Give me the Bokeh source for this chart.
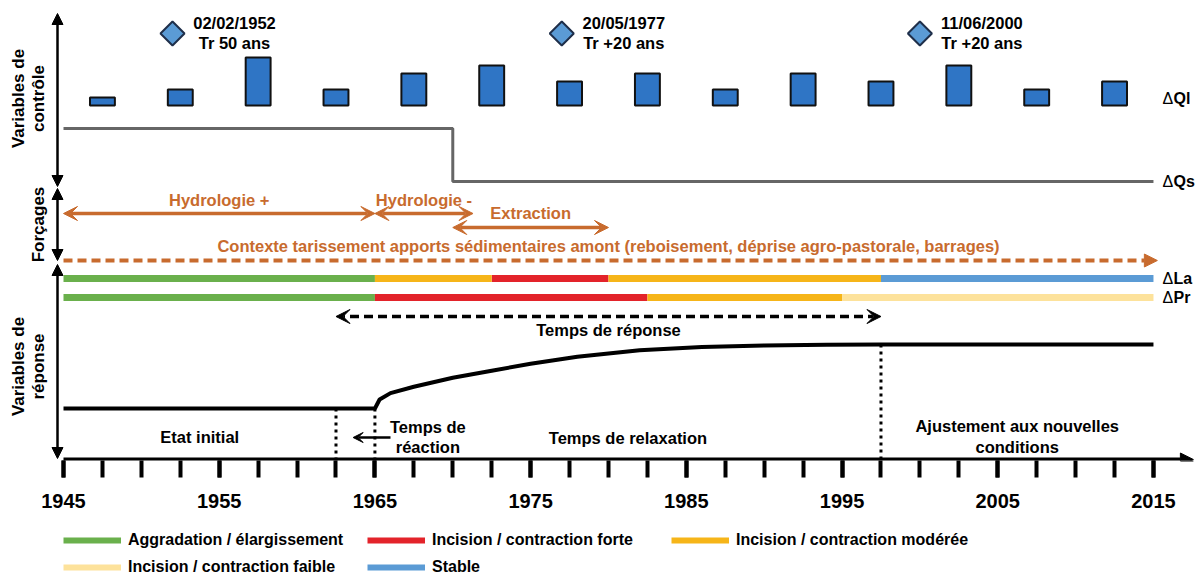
import numpy as np
from bokeh.plotting import figure
from bokeh.layouts import column
from bokeh.models import (Range1d, Arrow, VeeHead, NormalHead, FixedTicker,
                          Legend, LegendItem, ColumnDataSource)
from bokeh.core.properties import value
from bokeh.embed import file_html
from bokeh.resources import INLINE

# ---------------------------------------------------------------- data
tick_years = [1945, 1955, 1965, 1975, 1985, 1995, 2005, 2015]
minor_years = [1945 + 2.5 * i for i in range(29)]

peak_years = [1947.5, 1952.5, 1957.5, 1962.5, 1967.5, 1972.5, 1977.5,
              1982.5, 1987.5, 1992.5, 1997.5, 2002.5, 2007.5, 2012.5]
peak_ql = [1, 2, 6, 2, 4, 5, 3, 4, 2, 4, 3, 5, 2, 3]

flood_years = [1952, 1977, 2000]
flood_dates = ["02/02/1952", "20/05/1977", "11/06/2000"]
flood_return = ["Tr 50 ans", "Tr +20 ans", "Tr +20 ans"]

qs_years = [1945, 1970, 1970, 2015]
qs_level = [1, 1, 0, 0]

forcing_names = ["Hydrologie +", "Hydrologie -", "Extraction"]
forcing_start = [1945, 1965, 1970]
forcing_end = [1965, 1971.3, 1980]
context_start, context_end = 1945, 2015
context_text = ("Contexte tarissement apports sédimentaires amont "
                "(reboisement, déprise agro-pastorale, barrages)")

la_start = [1945, 1965, 1972.5, 1980, 1997.5]
la_end = [1965, 1972.5, 1980, 1997.5, 2015]
la_class = ["agg", "mod", "forte", "mod", "stable"]
pr_start = [1945, 1965, 1982.5, 1995]
pr_end = [1965, 1982.5, 1995, 2015]
pr_class = ["agg", "forte", "mod", "faible"]

class_keys = ["agg", "forte", "mod", "faible", "stable"]
class_labels = ["Aggradation / élargissement", "Incision / contraction forte",
                "Incision / contraction modérée", "Incision / contraction faible",
                "Stable"]
class_colors = ["#6ab04c", "#e3232a", "#f6b519", "#fde29b", "#5b9bd5"]

resp_years = [1945, 1965, 1965.3, 1966, 1967.5, 1970, 1972.5, 1975, 1978,
              1982, 1986, 1990, 1994, 1997.5, 2015]
resp_level = [0, 0, 0.14, 0.24, 0.34, 0.48, 0.59, 0.70, 0.81,
              0.91, 0.96, 0.985, 0.997, 1.0, 1.0]

marker_years = [1962.5, 1965, 1997.5]   # reaction start, disturbance, end of relaxation
marker_levels = [0, 0, 1]
response_window = (1962.5, 1997.5)
reaction_arrow = (1966, 1963.6)

right_labels = ["Ql", "Qs", "La", "Pr"]

# ---------------------------------------------------------------- layout (page-pixel rows)
FONT = "Liberation Sans"
ORANGE = "#c86b2e"
Y_TOP, Y_AXIS = 0, 460
X0_PX, PX_PER_YEAR = 63, 15.571          # 1945 sits 63 px right of the frame's left edge
FRAME_W = 1196
TOTAL_H = 577
MAIN_H = 520
x_start = 1945 - X0_PX / PX_PER_YEAR
x_end = x_start + FRAME_W / PX_PER_YEAR


def band(zero_px, one_px):
    k = one_px - zero_px
    return Range1d(start=(Y_AXIS - zero_px) / k, end=(Y_TOP - zero_px) / k)


p = figure(width=FRAME_W, height=MAIN_H, x_range=Range1d(x_start, x_end),
           y_range=Range1d(Y_AXIS, Y_TOP), output_backend="svg",
           toolbar_location=None, y_axis_location=None, x_axis_location="below",
           min_border_left=0, min_border_right=0, min_border_top=0,
           min_border_bottom=MAIN_H - (Y_AXIS - Y_TOP), outline_line_color=None,
           background_fill_color="white", border_fill_color="white")
p.grid.visible = False
p.extra_y_ranges = {"ql": band(105, 97), "qs": band(181, 128), "resp": band(408, 344)}

# x axis
ax = p.xaxis[0]
ax.ticker = FixedTicker(ticks=tick_years, minor_ticks=minor_years)
ax.bounds = (1945, 2015)
ax.axis_line_color = None
ax.major_tick_out = 17
ax.major_tick_in = 0
ax.minor_tick_out = 17
ax.minor_tick_in = 0
ax.major_tick_line_width = 4
ax.minor_tick_line_width = 4
ax.major_tick_line_color = "black"
ax.minor_tick_line_color = "black"
ax.major_label_standoff = 16
ax.major_label_text_font = FONT
ax.major_label_text_font_style = "bold"
ax.major_label_text_font_size = "20px"
ax.major_label_text_color = "black"
p.add_layout(Arrow(x_start=1945, y_start=Y_AXIS - 1, x_end=x_end - 0.2, y_end=Y_AXIS - 1,
                   line_width=4, line_color="black",
                   end=NormalHead(size=13, fill_color="black", line_color="black")))

# left vertical axis (three double arrows)
XV = 1945 - 6 / PX_PER_YEAR
for a, b in [(186, 13), (188, 260), (264, 458)]:
    p.add_layout(Arrow(x_start=XV, y_start=a, x_end=XV, y_end=b, line_width=2.5,
                       start=NormalHead(size=11, fill_color="black", line_color="black"),
                       end=NormalHead(size=11, fill_color="black", line_color="black")))

XL1 = 1945 - 45 / PX_PER_YEAR
XL2 = 1945 - 25 / PX_PER_YEAR
p.text(x=[XL1, XL2, XL2, XL1, XL2], y=[98, 98, 224, 366, 366],
       text=["Variables de", "contrôle", "Forçages", "Variables de", "réponse"],
       angle=np.pi / 2, text_align="center", text_baseline="middle",
       text_font=value(FONT), text_font_style="bold", text_font_size="17px",
       text_color="black")

# control variables: peak discharges
p.vbar(x=peak_years, top=peak_ql, bottom=0, width=1.6, y_range_name="ql",
       fill_color="#2f75c5", line_color="#111111", line_width=2)
p.scatter(x=flood_years, y=[33] * 3, marker="square", angle=np.pi / 4, size=17,
          fill_color="#5b9bd5", line_color="#1f2f4a", line_width=2)
p.text(x=flood_years, y=[22] * 3, text=flood_dates, x_offset=62,
       text_align="center", text_baseline="middle", text_font=value(FONT),
       text_font_style="bold", text_font_size="16.5px", text_color="black")
p.text(x=flood_years, y=[42] * 3, text=flood_return, x_offset=62,
       text_align="center", text_baseline="middle", text_font=value(FONT),
       text_font_style="bold", text_font_size="16.5px", text_color="black")

# sediment supply step
p.line(qs_years, qs_level, y_range_name="qs", line_color="#666666", line_width=3)

# right-hand labels
XR = 2015 + 9 / PX_PER_YEAR
ry = [98, 181, 278, 297]
p.text(x=[XR] * 4, y=ry, text=["Δ"] * 4,
       text_align="left", text_baseline="middle", text_font=value(FONT),
       text_font_size="16px", text_color="black")
p.text(x=[XR] * 4, y=ry, text=right_labels,
       x_offset=11, text_align="left", text_baseline="middle", text_font=value(FONT),
       text_font_style="bold", text_font_size="16px", text_color="black")

# forcings
for s, e, yy in zip(forcing_start, forcing_end, [213, 213, 227]):
    p.add_layout(Arrow(x_start=s, y_start=yy, x_end=e, y_end=yy, line_width=3.5,
                       line_color=ORANGE,
                       start=VeeHead(size=14, fill_color=ORANGE, line_color=ORANGE),
                       end=VeeHead(size=14, fill_color=ORANGE, line_color=ORANGE)))
p.text(x=[(s + e) / 2 for s, e in zip(forcing_start, forcing_end)], y=[199, 199, 212],
       text=forcing_names, text_align="center", text_baseline="middle",
       text_font=value(FONT), text_font_style="bold", text_font_size="16.5px",
       text_color=ORANGE)
p.text(x=[(context_start + context_end) / 2], y=[245], text=[context_text],
       text_align="center", text_baseline="middle", text_font=value(FONT),
       text_font_style="bold", text_font_size="16.5px", text_color=ORANGE)
p.add_layout(Arrow(x_start=context_start, y_start=260, x_end=context_end + 0.25, y_end=260,
                   line_width=4, line_color=ORANGE, line_dash="9 5",
                   end=NormalHead(size=13, fill_color=ORANGE, line_color=ORANGE)))

# response classes (ΔLa, ΔPr bars)
seg = {"x0": la_start + pr_start, "x1": la_end + pr_end,
       "y": [278] * len(la_start) + [297] * len(pr_start),
       "cls": la_class + pr_class}
for k, c in zip(class_keys, class_colors):
    idx = [i for i, v in enumerate(seg["cls"]) if v == k]
    src = ColumnDataSource(dict(x0=[seg["x0"][i] for i in idx],
                                x1=[seg["x1"][i] for i in idx],
                                y=[seg["y"][i] for i in idx]))
    p.segment(x0="x0", x1="x1", y0="y", y1="y", source=src,
              line_color=c, line_width=7, line_cap="butt")

# response time
p.add_layout(Arrow(x_start=response_window[0], y_start=316, x_end=response_window[1],
                   y_end=316, line_width=3.5, line_color="black", line_dash="9 5",
                   start=VeeHead(size=14, fill_color="black", line_color="black"),
                   end=VeeHead(size=14, fill_color="black", line_color="black")))
p.text(x=[sum(response_window) / 2], y=[329], text=["Temps de réponse"],
       text_align="center", text_baseline="middle", text_font=value(FONT),
       text_font_style="bold", text_font_size="16.5px", text_color="black")

# response curve
p.line(resp_years, resp_level, y_range_name="resp", line_color="black", line_width=4)
resp_axis = (Y_AXIS - 408) / (344 - 408)
p.segment(x0=marker_years, x1=marker_years, y0=marker_levels,
          y1=[resp_axis] * len(marker_years), y_range_name="resp",
          line_color="black", line_width=3, line_dash="3 4")
p.add_layout(Arrow(x_start=reaction_arrow[0], y_start=437, x_end=reaction_arrow[1],
                   y_end=437, line_width=2.5, line_color="black",
                   end=VeeHead(size=10, fill_color="black", line_color="black")))

p.text(x=[(1945 + marker_years[0]) / 2, 1968.4, 1968.4,
          (marker_years[1] + marker_years[2]) / 2, (marker_years[2] + 2015) / 2,
          (marker_years[2] + 2015) / 2],
       y=[436, 426, 446, 437, 425, 446],
       text=["Etat initial", "Temps de", "réaction", "Temps de relaxation",
             "Ajustement aux nouvelles", "conditions"],
       text_align="center", text_baseline="middle", text_font=value(FONT),
       text_font_style="bold", text_font_size="16.5px", text_color="black")

# ---------------------------------------------------------------- legend strip
LEG_H = TOTAL_H - MAIN_H
q = figure(width=FRAME_W, height=LEG_H, x_range=Range1d(0, 1), y_range=Range1d(0, 1),
           output_backend="svg", toolbar_location=None, x_axis_location=None,
           y_axis_location=None, min_border_left=0, min_border_right=0,
           min_border_top=0, min_border_bottom=0, outline_line_color=None,
           background_fill_color="white", border_fill_color="white")
q.grid.visible = False
# off-range placeholder renderers that only carry the legend swatch styles
leg_r = {k: q.segment(x0=[5], x1=[6], y0=[5], y1=[5], line_color=c, line_width=6)
         for k, c in zip(class_keys, class_colors)}
items = [LegendItem(label=lab, renderers=[leg_r[k]])
         for k, lab in zip(class_keys, class_labels)]
for its, ybot in [(items[:3], 28), (items[3:], 1)]:
    lg = Legend(items=its, orientation="horizontal", location=(X0_PX, ybot),
                margin=0, padding=0, spacing=0, glyph_width=58, glyph_height=16,
                label_height=16, label_width=239, label_standoff=7,
                border_line_color=None, background_fill_alpha=0,
                label_text_font=FONT, label_text_font_style="bold",
                label_text_font_size="16px", label_text_color="black",
                label_text_baseline="middle")
    q.add_layout(lg)

page = column(p, q, spacing=0)
open("out.html", "w").write(file_html(page, INLINE))
